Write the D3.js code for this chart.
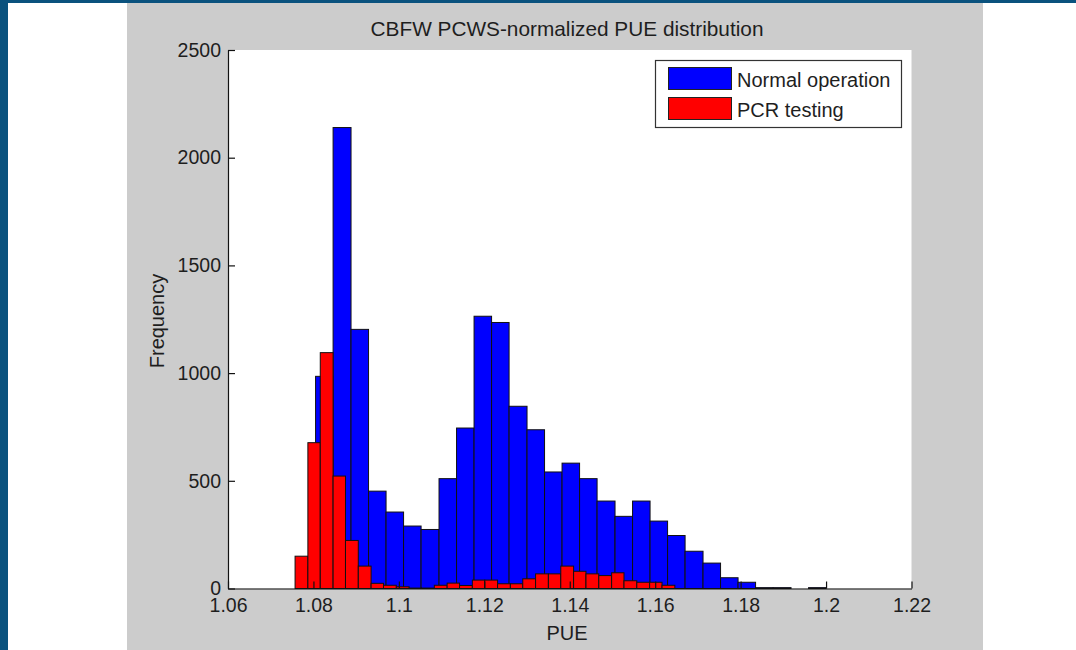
<!DOCTYPE html>
<html>
<head>
<meta charset="utf-8">
<script src="https://cdn.jsdelivr.net/npm/d3@7"></script>
<style>
  html, body { margin: 0; padding: 0; background: #ffffff; }
  svg { display: block; }
  text { font-family: "Liberation Sans", Arial, sans-serif; fill: #1e1e1e; }
</style>
</head>
<body>
<svg id="chart" width="1076" height="650"></svg>
<script>
// ---------- data ----------
const chartTitle = "CBFW PCWS-normalized PUE distribution";
const xLabel = "PUE";
const yLabel = "Frequency";
const seriesNames = ["Normal operation", "PCR testing"];

// Normal operation histogram: bin edges (PUE) and counts
const normalEdges = [1.0764, 1.0805, 1.0846, 1.0888, 1.0929, 1.0970, 1.1011, 1.1052, 1.1094, 1.1135,
                     1.1176, 1.1217, 1.1258, 1.1300, 1.1341, 1.1382, 1.1423, 1.1464, 1.1506, 1.1547,
                     1.1588, 1.1629, 1.1670, 1.1712, 1.1753, 1.1794, 1.1835, 1.1876, 1.1918, 1.1959, 1.2000];
const normalCounts = [100, 985, 2140, 1203, 452, 355, 290, 274, 510, 745,
                      1264, 1235, 846, 737, 541, 582, 510, 406, 335, 406,
                      313, 246, 173, 118, 50, 29, 4, 4, 0, 4];

// PCR testing histogram: bin edges (PUE) and counts
const pcrEdges = [1.0757, 1.0787, 1.0816, 1.0846, 1.0875, 1.0905, 1.0935, 1.0964, 1.0994, 1.1024,
                  1.1053, 1.1083, 1.1113, 1.1142, 1.1172, 1.1201, 1.1231, 1.1261, 1.1290, 1.1320,
                  1.1350, 1.1379, 1.1409, 1.1438, 1.1468, 1.1498, 1.1527, 1.1557, 1.1587, 1.1616, 1.1646];
const pcrCounts = [150, 677, 1095, 522, 223, 104, 24, 15, 8, 2,
                   2, 15, 25, 14, 39, 39, 22, 22, 45, 68,
                   68, 104, 80, 68, 60, 73, 36, 29, 29, 15];

const xTicks = [1.06, 1.08, 1.1, 1.12, 1.14, 1.16, 1.18, 1.2, 1.22];
const xTickLabels = ["1.06", "1.08", "1.1", "1.12", "1.14", "1.16", "1.18", "1.2", "1.22"];
const yTicks = [0, 500, 1000, 1500, 2000, 2500];
const yTickLabels = ["0", "500", "1000", "1500", "2000", "2500"];

// ---------- layout ----------
const svg = d3.select("#chart");
const plot = { left: 228, right: 911.5, top: 50, bottom: 588.5 };

// frame / background
svg.append("rect").attr("x", 0).attr("y", 0).attr("width", 1076).attr("height", 650).attr("fill", "#ffffff");
svg.append("rect").attr("x", 127).attr("y", 0).attr("width", 856).attr("height", 650).attr("fill", "#cccccc");
svg.append("rect").attr("x", 0).attr("y", 0).attr("width", 1076).attr("height", 3).attr("fill", "#0a527e");
svg.append("rect").attr("x", 0).attr("y", 0).attr("width", 8).attr("height", 650).attr("fill", "#0a527e");

// plot background
svg.append("rect")
  .attr("x", plot.left).attr("y", plot.top)
  .attr("width", plot.right - plot.left).attr("height", plot.bottom - plot.top)
  .attr("fill", "#ffffff");

const x = d3.scaleLinear().domain([1.06, 1.22]).range([plot.left, plot.right]);
const y = d3.scaleLinear().domain([0, 2500]).range([plot.bottom, plot.top]);

function drawHist(edges, counts, color) {
  const bins = counts.map((c, i) => ({ x0: edges[i], x1: edges[i + 1], n: c }));
  svg.append("g").selectAll("rect").data(bins).join("rect")
    .attr("x", d => x(d.x0))
    .attr("width", d => x(d.x1) - x(d.x0))
    .attr("y", d => y(d.n))
    .attr("height", d => y(0) - y(d.n))
    .attr("fill", color)
    .attr("stroke", "#111")
    .attr("stroke-width", 1);
}
drawHist(normalEdges, normalCounts, "#0000ff");
drawHist(pcrEdges, pcrCounts, "#ff0000");

// axes
const xAxis = d3.axisBottom(x).tickValues(xTicks)
  .tickFormat((d, i) => xTickLabels[i]).tickSizeInner(-7).tickSizeOuter(0).tickPadding(10);
const gx = svg.append("g").attr("transform", `translate(0,${plot.bottom})`).call(xAxis);

const yAxis = d3.axisLeft(y).tickValues(yTicks)
  .tickFormat((d, i) => yTickLabels[i]).tickSizeInner(-7).tickSizeOuter(0).tickPadding(7);
const gy = svg.append("g").attr("transform", `translate(${plot.left},0)`).call(yAxis);

[gx, gy].forEach(g => {
  g.select(".domain").attr("stroke", "#111").attr("stroke-width", 1.2);
  g.selectAll(".tick line").attr("stroke", "#111").attr("stroke-width", 1.2);
  g.selectAll(".tick text").attr("font-size", 19.5).attr("fill", "#1e1e1e")
    .style("font-family", "'Liberation Sans', Arial, sans-serif");
});

// title and axis labels
svg.append("text").attr("x", 567).attr("y", 36).attr("text-anchor", "middle")
  .attr("font-size", 20.8).text(chartTitle);
svg.append("text").attr("x", 567).attr("y", 640).attr("text-anchor", "middle")
  .attr("font-size", 20).text(xLabel);
svg.append("text").attr("transform", "translate(164,321) rotate(-90)").attr("text-anchor", "middle")
  .attr("font-size", 20).text(yLabel);

// legend
const lg = svg.append("g");
lg.append("rect").attr("x", 655.5).attr("y", 60.5).attr("width", 246).attr("height", 67)
  .attr("fill", "#ffffff").attr("stroke", "#333").attr("stroke-width", 1.2);
const legendColors = ["#0000ff", "#ff0000"];
seriesNames.forEach((name, i) => {
  lg.append("rect").attr("x", 668.5).attr("y", 67.5 + i * 30).attr("width", 63).attr("height", 22)
    .attr("fill", legendColors[i]).attr("stroke", "#222").attr("stroke-width", 1);
  lg.append("text").attr("x", 737).attr("y", 86.5 + i * 30).attr("font-size", 20).text(name);
});
</script>
</body>
</html>
